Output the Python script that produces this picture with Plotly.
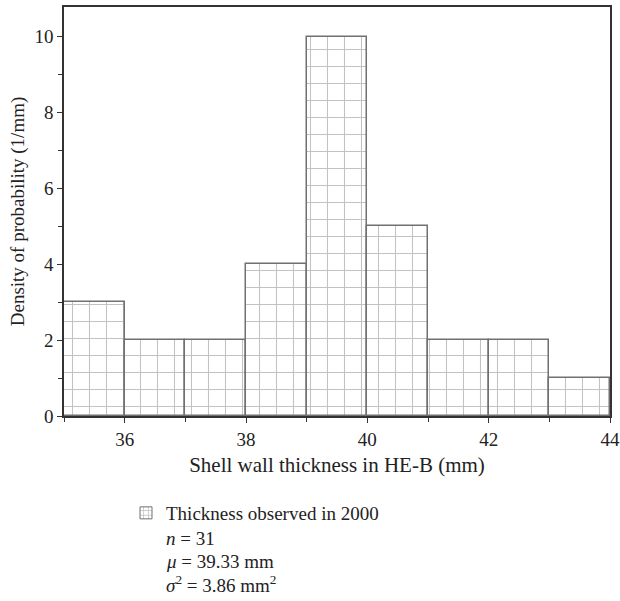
import plotly.graph_objects as go

# Histogram of shell wall thickness (bins of 1 mm)
bin_left = [35, 36, 37, 38, 39, 40, 41, 42, 43]
density = [3, 2, 2, 4, 10, 5, 2, 2, 1]
x_ticks = [36, 38, 40, 42, 44]
y_ticks = [0, 2, 4, 6, 8, 10]
series_name = "Thickness observed in 2000"
stats_lines = [
    "<i>n</i> = 31",
    "<i>μ</i> = 39.33 mm",
    "<i>σ</i><sup>2</sup> = 3.86 mm<sup>2</sup>",
]

FONT = "Liberation Serif"
INK = "#222"
GRID = "#858585"
EDGE = "#707070"
W, H = 620, 601
ML, MR, MT, MB = 64, 10, 7, 185
pw, ph = W - ML - MR, H - MT - MB

fig = go.Figure()
# bars of the histogram
fig.add_trace(go.Bar(
    x=[b + 0.5 for b in bin_left],
    y=density,
    width=1,
    name=series_name,
    marker=dict(
        color="white",
        line=dict(color=EDGE, width=1.5),
        pattern=dict(shape="+", fgcolor=GRID, bgcolor="white",
                     size=17, solidity=0.12),
    ),
    showlegend=False,
))
# legend entry with a finer hatch so the swatch shows the grid
fig.add_trace(go.Bar(
    x=[None], y=[None],
    name=series_name,
    marker=dict(
        color="white",
        line=dict(color=EDGE, width=1),
        pattern=dict(shape="+", fgcolor=GRID, bgcolor="white",
                     size=6, solidity=0.3),
    ),
    showlegend=True,
))

axis_common = dict(
    showgrid=False, zeroline=False, showline=True, linecolor="#333",
    linewidth=1.5, mirror=True, ticks="outside", ticklen=5,
    tickcolor="#333", tickwidth=1, automargin=False,
    tickfont=dict(family=FONT, size=19, color=INK),
)

fig.update_xaxes(
    range=[35, 44], tickvals=x_ticks,
    minor=dict(dtick=1, tick0=35, ticks="outside", ticklen=4, tickcolor="#333"),
    title=dict(text="Shell wall thickness in HE-B (mm)",
               font=dict(family=FONT, size=21, color=INK), standoff=9),
    **axis_common,
)
fig.update_yaxes(
    range=[0, 10.78], tickvals=y_ticks,
    minor=dict(dtick=1, tick0=0, ticks="outside", ticklen=4, tickcolor="#333"),
    title=dict(text="Density of probability (1/mm)",
               font=dict(family=FONT, size=19, color=INK), standoff=5),
    **axis_common,
)

def px_x(px):
    return (px - ML) / pw

def px_y(py):
    return (H - MB - py) / ph

for i, line in enumerate(stats_lines):
    fig.add_annotation(
        text=line, xref="paper", yref="paper",
        x=px_x(164), y=px_y(538 + 23 * i),
        xanchor="left", yanchor="middle", showarrow=False,
        font=dict(family=FONT, size=19, color=INK),
    )

fig.update_layout(
    width=W, height=H,
    margin=dict(l=ML, r=MR, t=MT, b=MB, autoexpand=False),
    plot_bgcolor="white", paper_bgcolor="white",
    bargap=0, barmode="overlay",
    legend=dict(
        x=px_x(126), y=px_y(494), xanchor="left", yanchor="top",
        font=dict(family=FONT, size=19, color=INK),
        bgcolor="rgba(0,0,0,0)", itemwidth=30,
    ),
)

fig.write_html("out.html")
